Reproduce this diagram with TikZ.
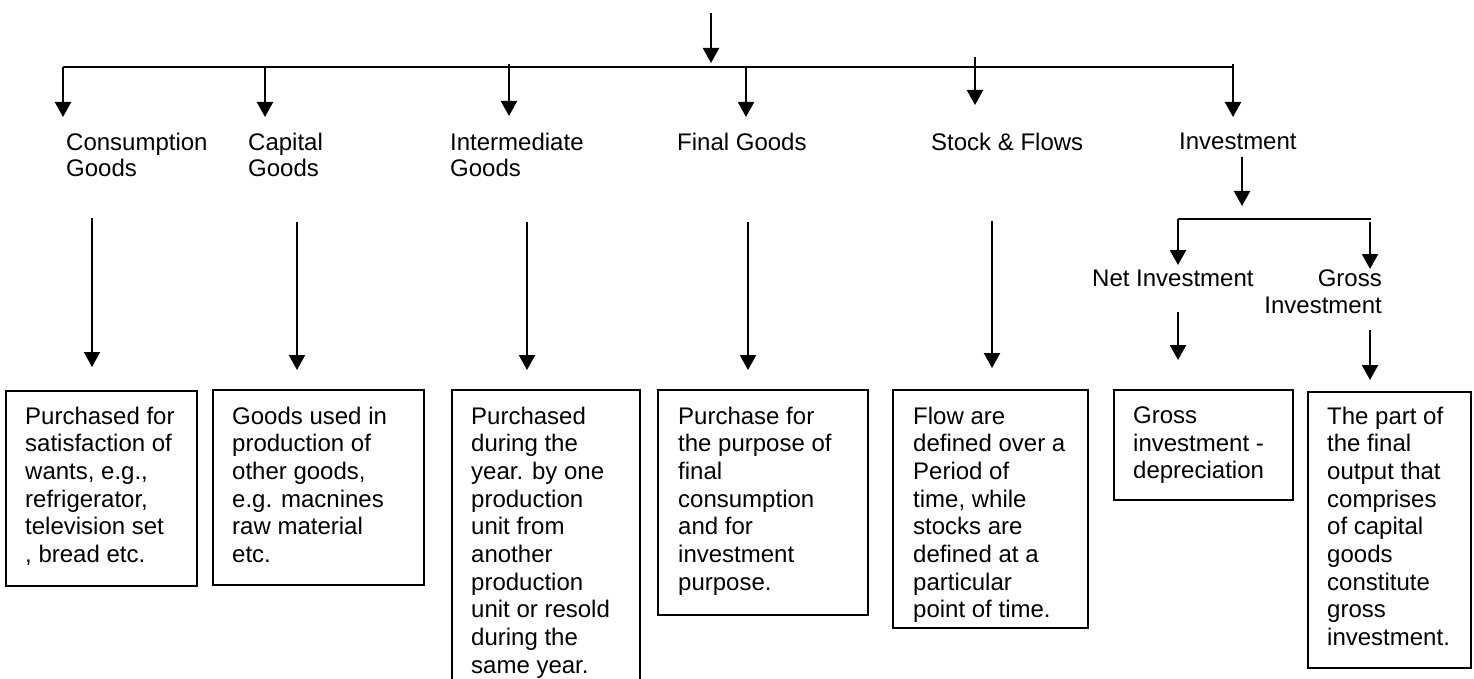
\documentclass[tikz,border=0pt]{standalone}
\usepackage{fontspec}
\setmainfont{Liberation Sans}
\usetikzlibrary{arrows.meta}
\begin{document}
\begin{tikzpicture}[x=1pt,y=-1pt,
  arr/.style={line width=2.2pt,-{Triangle[width=16pt,length=15pt]}},
  ln/.style={line width=2.2pt},
  box/.style={draw,line width=1.7pt,anchor=north west,inner sep=0pt},
  txt/.style={anchor=north west,inner sep=0pt,align=left,font=\fontsize{24}{27.7}\selectfont},
  lbl/.style={inner sep=0pt,font=\fontsize{24}{26.5}\selectfont}]
\useasboundingbox (0,0) rectangle (1474,679);
\clip (0,0) rectangle (1474,679);

% top bar
\coordinate (top) at (711,13);
\coordinate (barL) at (63,67);
\coordinate (barR) at (1234,67);
\draw[ln] (barL) -- (barR);
\draw[arr,shorten >=4pt] (top) -- (top |- barL);

% labels
\node[lbl,anchor=north west,align=left] (l1) at (66,132.5) {Consumption\\Goods};
\node[lbl,anchor=north west,align=left] (l2) at (248,132.5) {Capital\\Goods};
\node[lbl,anchor=north west,align=left] (l3) at (450,132.5) {Intermediate\\Goods};
\node[lbl,anchor=north west,align=left] (l4) at (677,132.5) {Final Goods};
\node[lbl,anchor=north west,align=left] (l5) at (931,132.5) {Stock \& Flows};
\node[lbl,anchor=north west,align=left] (l6) at (1179,132.5) {Investment};

% branch arrows
\coordinate (c1) at (63,67);
\coordinate (c2) at (265,67);
\coordinate (c3) at (509,64);
\coordinate (c4) at (746,67);
\coordinate (c5) at (975,57);
\coordinate (c6) at (1233,64);
\draw[arr,shorten >=15.5pt] (c1) -- (c1 |- l1.north);
\draw[arr,shorten >=15.5pt] (c2) -- (c2 |- l2.north);
\draw[arr,shorten >=16.5pt] (c3) -- (c3 |- l3.north);
\draw[arr,shorten >=15.5pt] (c4) -- (c4 |- l4.north);
\draw[arr,shorten >=27.5pt] (c5) -- (c5 |- l5.north);
\draw[arr,shorten >=15.5pt] (c6) -- (c6 |- l6.north);

% boxes
\node[box,minimum width=191pt,minimum height=195pt] (b1) at (5,390) {};
\node[box,minimum width=211pt,minimum height=195pt] (b2) at (212,389) {};
\node[box,minimum width=188pt,minimum height=320pt] (b3) at (451,389) {};
\node[box,minimum width=210pt,minimum height=225pt] (b4) at (657,389) {};
\node[box,minimum width=195pt,minimum height=238pt] (b5) at (892,389) {};
\node[box,minimum width=179pt,minimum height=110pt] (b6) at (1113,389) {};
\node[box,minimum width=163pt,minimum height=276pt] (b7) at (1307,391) {};

% box texts
\node[txt] (t1) at (25,406.5) {Purchased for\\satisfaction of\\wants, e.g.,\\refrigerator,\\television set\\, bread etc.};
\node[txt] (t2) at (232,406.5) {Goods used in\\production of\\other goods,\\e.g. macnines\\raw material\\etc.};
\node[txt] (t3) at (471,406.5) {Purchased\\during the\\year. by one\\production\\unit from\\another\\production\\unit or resold\\during the\\same year.};
\node[txt] (t4) at (678,406.5) {Purchase for\\the purpose of\\final\\consumption\\and for\\investment\\purpose.};
\node[txt] (t5) at (913,406.5) {Flow are\\defined over a\\Period of\\time, while\\stocks are\\defined at a\\particular\\point of time.};
\node[txt] (t6) at (1133,406.5) {Gross\\investment -\\depreciation};
\node[txt] (t7) at (1327,406.5) {The part of\\the final\\output that\\comprises\\of capital\\goods\\constitute\\gross\\investment.};

% label -> box arrows
\coordinate (s1) at (92,218);
\coordinate (s2) at (297,222);
\coordinate (s3) at (527,222);
\coordinate (s4) at (748,222);
\coordinate (s5) at (992,221);
\draw[arr,shorten >=23pt] (s1) -- (s1 |- b1.north);
\draw[arr,shorten >=19pt] (s2) -- (s2 |- b2.north);
\draw[arr,shorten >=19pt] (s3) -- (s3 |- b3.north);
\draw[arr,shorten >=19pt] (s4) -- (s4 |- b4.north);
\draw[arr,shorten >=21pt] (s5) -- (s5 |- b5.north);

% investment subtree
\coordinate (i0) at (1242,157);
\coordinate (ib) at (1178,219);
\coordinate (ibR) at (1371,219);
\draw[arr,shorten >=13pt] (i0) -- (i0 |- ib);
\draw[ln] (ib) -- (ibR);
\node[lbl,anchor=north west] (net) at (1092,270) {Net Investment};
\node[lbl,anchor=north east,align=right] (gross) at (1382,270) {Gross\\Investment};
\coordinate (g0) at (1370,222);
\draw[arr,shorten >=5pt] (ib) -- (ib |- net.north);
\draw[arr,shorten >=1pt] (g0) -- (g0 |- gross.north);
\coordinate (n0) at (1178,312);
\coordinate (g1) at (1370,330);
\draw[arr,shorten >=29pt] (n0) -- (n0 |- b6.north);
\draw[arr,shorten >=11pt] (g1) -- (g1 |- b7.north);
\end{tikzpicture}
\end{document}
